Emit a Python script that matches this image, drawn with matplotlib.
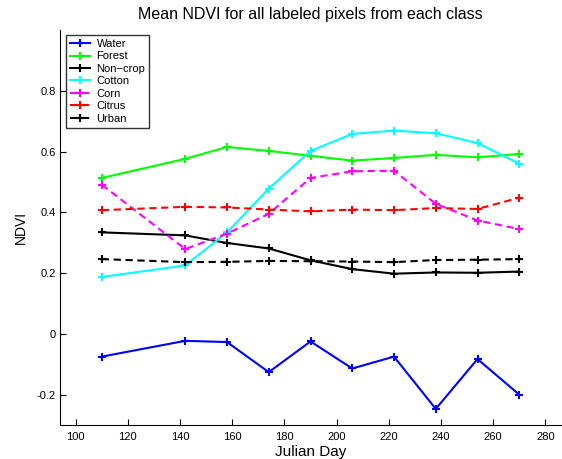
import matplotlib
matplotlib.use('Agg')
import matplotlib.pyplot as plt

days = [110, 142, 158, 174, 190, 206, 222, 238, 254, 270]

water = [-0.075, -0.023, -0.027, -0.126, -0.025, -0.114, -0.075, -0.247, -0.083, -0.200]
forest = [0.513, 0.576, 0.615, 0.602, 0.586, 0.570, 0.579, 0.589, 0.581, 0.592]
noncrop = [0.334, 0.324, 0.299, 0.281, 0.242, 0.213, 0.198, 0.202, 0.201, 0.205]
cotton = [0.187, 0.225, 0.334, 0.478, 0.602, 0.658, 0.669, 0.660, 0.628, 0.560]
corn = [0.491, 0.279, 0.330, 0.395, 0.513, 0.535, 0.537, 0.428, 0.373, 0.345]
citrus = [0.407, 0.418, 0.416, 0.409, 0.403, 0.409, 0.407, 0.414, 0.411, 0.448]
urban = [0.246, 0.236, 0.237, 0.240, 0.239, 0.238, 0.236, 0.243, 0.244, 0.246]

names = ['Water', 'Forest', 'Non\u2212crop', 'Cotton', 'Corn', 'Citrus', 'Urban']
series = [water, forest, noncrop, cotton, corn, citrus, urban]
colors = ['#0000ff', '#00ff00', '#000000', '#00ffff', '#ff00ff', '#ff0000', '#000000']
styles = ['-', '-', '-', '-', '--', '--', '--']

plt.rcParams['font.family'] = ['Liberation Sans', 'DejaVu Sans']

fig = plt.figure(figsize=(5.62, 4.59), dpi=100)
ax = fig.add_axes([60 / 562, 34 / 459, 501 / 562, 395 / 459])

for vals, name, c, ls in zip(series, names, colors, styles):
    ax.plot(days, vals, linestyle=ls, color=c, linewidth=1.5, marker='+',
            markersize=6, markeredgewidth=1.5, label=name,
            dashes=(3.5, 2.2) if ls == '--' else (None, None))

ax.set_xlim(94, 286)
ax.set_ylim(-0.3, 1.0)
ax.set_xticks(range(100, 281, 20))
ax.set_yticks([-0.2, 0, 0.2, 0.4, 0.6, 0.8])
ax.set_yticklabels(['-0.2', '0', '0.2', '0.4', '0.6', '0.8'])
ax.spines['top'].set_visible(False)
ax.spines['right'].set_visible(False)
ax.tick_params(direction='in', length=4, labelsize=8)
ax.tick_params(axis='y', pad=3)
ax.tick_params(axis='x', pad=5)
ax.set_xlabel('Julian Day', fontsize=11, labelpad=2)
ax.set_ylabel('NDVI', fontsize=10, labelpad=6)
ax.set_title('Mean NDVI for all labeled pixels from each class', fontsize=11.5, pad=8)

leg = ax.legend(loc='upper left', bbox_to_anchor=(0.012, 0.987), borderaxespad=0,
                fontsize=8, frameon=True, fancybox=False, edgecolor='black',
                handlelength=1.8, labelspacing=0.22, borderpad=0.35, handletextpad=0.6)
leg.get_frame().set_linewidth(1)

fig.savefig('out.png', dpi=100)
